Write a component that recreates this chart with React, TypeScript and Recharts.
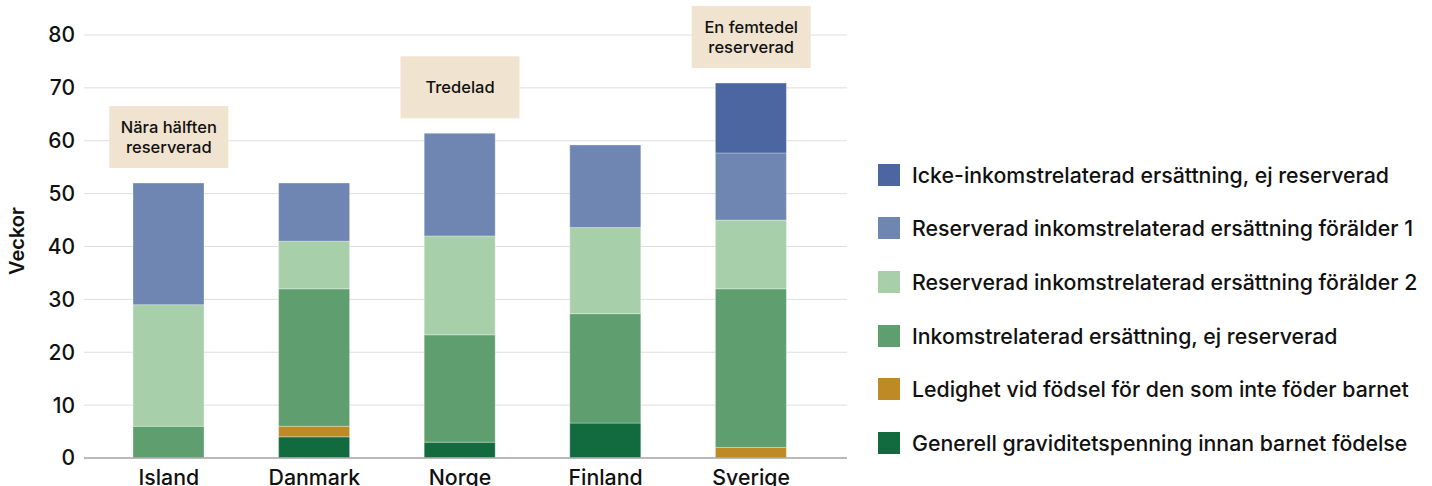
import React from 'react';
import { BarChart, Bar, XAxis, YAxis, CartesianGrid, Legend, ReferenceDot } from 'recharts';

const categories = ['Island', 'Danmark', 'Norge', 'Finland', 'Sverige'];
const generell = [0, 4, 3, 6.6, 0];
const ledighet = [0, 2, 0, 0, 2];
const inkomst = [6, 26, 20.3, 20.7, 30];
const reserverad2 = [23, 9, 18.7, 16.3, 13];
const reserverad1 = [23, 11, 19.4, 15.6, 12.7];
const icke = [0, 0, 0, 0, 13.2];
const yTicks = [0, 10, 20, 30, 40, 50, 60, 70, 80];

const annotationCats = ['Island', 'Norge', 'Sverige'];
const annotationTexts = [['Nära hälften', 'reserverad'], ['Tredelad'], ['En femtedel', 'reserverad']];

const series = [
  { key: 'generell', name: 'Generell graviditetspenning innan barnet födelse', color: '#126b3f', values: generell },
  { key: 'ledighet', name: 'Ledighet vid födsel för den som inte föder barnet', color: '#bd8a25', values: ledighet },
  { key: 'inkomst', name: 'Inkomstrelaterad ersättning, ej reserverad', color: '#5f9e6e', values: inkomst },
  { key: 'res2', name: 'Reserverad inkomstrelaterad ersättning förälder 2', color: '#a7d0aa', values: reserverad2 },
  { key: 'res1', name: 'Reserverad inkomstrelaterad ersättning förälder 1', color: '#6e86b1', values: reserverad1 },
  { key: 'icke', name: 'Icke-inkomstrelaterad ersättning, ej reserverad', color: '#4b66a0', values: icke },
];

const data = categories.map((c, i) => {
  const row: Record<string, any> = { name: c };
  series.forEach((s) => { row[s.key] = s.values[i]; });
  return row;
});

const totals = categories.map((_, i) => series.reduce((a, s) => a + s.values[i], 0));

const FONT = 'Inter, "Liberation Sans", Arial, sans-serif';

const makeBoxShape = (lines: string[]) => (props: any) => {
  const { cx, cy } = props;
  const w = 119;
  const h = 62;
  const bottom = cy - 15;
  const top = bottom - h;
  const mid = top + h / 2;
  return (
    <g>
      <rect x={cx - w / 2} y={top} width={w} height={h} fill="#f0e3cf" />
      {lines.map((l, i) => (
        <text
          key={i}
          x={cx}
          y={mid + (i - (lines.length - 1) / 2) * 20}
          textAnchor="middle"
          dominantBaseline="central"
          fontSize={16.5}
          fontWeight={500}
          fill="#111"
          fontFamily={FONT}
        >
          {l}
        </text>
      ))}
    </g>
  );
};

const renderLegend = () => (
  <div style={{ fontFamily: FONT }}>
    {[...series].reverse().map((s) => (
      <div key={s.key} style={{ display: 'flex', alignItems: 'center', height: 53.6 }}>
        <div style={{ width: 22, height: 22, background: s.color, marginRight: 12, flexShrink: 0 }} />
        <span style={{ fontSize: 21.3, fontWeight: 500, color: '#111', whiteSpace: 'nowrap' }}>{s.name}</span>
      </div>
    ))}
  </div>
);

export default function App() {
  return (
    <div style={{ position: 'absolute', left: 0, top: 0, width: 1432, height: 486, fontFamily: FONT, background: '#fff', overflow: 'hidden' }}>
      <BarChart width={1432} height={486} data={data} margin={{ top: 35, right: 585, bottom: 0, left: 0 }}>
        <CartesianGrid vertical={false} stroke="#dedede" strokeWidth={1} />
        <XAxis
          dataKey="name"
          height={28}
          padding={{ left: 12, right: 23 }}
          tickLine={false}
          axisLine={{ stroke: '#a8a8a8', strokeWidth: 1.5 }}
          tickMargin={6}
          tick={{ fontSize: 21.3, fontWeight: 500, fill: '#111', fontFamily: FONT }}
          interval={0}
        />
        <YAxis
          width={84}
          domain={[0, 80]}
          ticks={yTicks}
          tickLine={false}
          axisLine={false}
          tickMargin={3}
          tick={{ fontSize: 21, fontWeight: 500, fill: '#111', fontFamily: FONT }}
          label={{
            content: () => {
              const cy = 241;
              return (
                <text
                  x={17}
                  y={cy}
                  transform={`rotate(-90, 17, ${cy})`}
                  textAnchor="middle"
                  dominantBaseline="central"
                  fontSize={20}
                  fontWeight={600}
                  fill="#111"
                  fontFamily={FONT}
                >
                  Veckor
                </text>
              );
            },
          }}
        />
        {series.map((s) => (
          <Bar
            key={s.key}
            dataKey={s.key}
            name={s.name}
            stackId="a"
            fill={s.color}
            barSize={71}
            stroke="#ffffff"
            strokeOpacity={0.3}
            strokeWidth={1}
            isAnimationActive={false}
          />
        ))}
        {annotationCats.map((c, i) => (
          <ReferenceDot
            key={c}
            x={c}
            y={totals[categories.indexOf(c)]}
            r={0}
            ifOverflow="visible"
            shape={makeBoxShape(annotationTexts[i])}
          />
        ))}
        <Legend
          layout="vertical"
          align="center"
          verticalAlign="middle"
          content={renderLegend}
          wrapperStyle={{ left: 878, top: 148, width: 554 }}
        />
      </BarChart>
    </div>
  );
}
